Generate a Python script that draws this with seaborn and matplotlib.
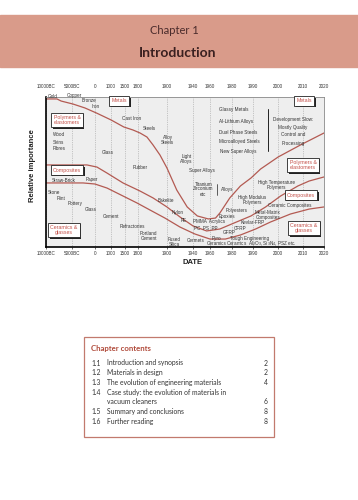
import numpy as np
import pandas as pd
import seaborn as sns
import matplotlib.pyplot as plt
import matplotlib.patheffects as pe
from matplotlib.patches import Rectangle
from matplotlib.lines import Line2D

# ---- data -------------------------------------------------------------
tick_years = [-10000, -5000, 0, 1000, 1500, 1800, 1900, 1940, 1960, 1980, 1990, 2000, 2010, 2020]
tick_labels = ["10000BC", "5000BC", "0", "1000", "1500", "1800", "1900",
               "1940", "1960", "1980", "1990", "2000", "2010", "2020"]
# the date axis is hand spaced, not linear: where each tick sits (0..1)
tick_pos = [0, .094, .176, .234, .284, .331, .435, .529, .59, .669, .745, .835, .924, 1.0]

# boundary metals / polymers
metals_year = [-10000, -7900, -7100, -4800, -2200, 100, 1000, 1460, 1685, 1807, 1831, 1852,
               1876, 1900, 1915, 1931, 1945, 1958, 1965, 1969, 1978, 1984, 1989, 1993,
               2000, 2009, 2020]
metals_imp = [.987, .987, .973, .953, .927, .893, .847, .80, .78, .76, .733, .68,
              .613, .527, .38, .267, .207, .187, .193, .227, .327, .407, .46, .52,
              .60, .68, .76]
# boundary polymers / composites
polymers_year = [-10000, -1740, 125, 750, 1430, 1807, 1852, 1900, 1920, 1940, 1956, 1969,
                 1981, 1989, 1995, 2001, 2008, 2013, 2020]
polymers_imp = [.547, .547, .533, .493, .427, .373, .327, .267, .20, .14, .107, .12,
                .16, .207, .267, .34, .407, .44, .467]
# boundary composites / ceramics
composites_year = [-10000, -2600, 0, 750, 1430, 1780, 1841, 1893, 1920, 1942, 1960, 1974,
                   1984, 1991, 1997, 2005, 2013, 2020]
composites_imp = [.427, .427, .42, .393, .34, .293, .247, .193, .133, .087, .053, .053,
                  .08, .12, .167, .22, .253, .267]

contents = [("1.1", "Introduction and synopsis", "2"),
            ("1.2", "Materials in design", "2"),
            ("1.3", "The evolution of engineering materials", "4"),
            ("1.4", "Case study: the evolution of materials in\nvacuum cleaners", "6"),
            ("1.5", "Summary and conclusions", "8"),
            ("1.6", "Further reading", "8")]

df = pd.concat([
    pd.DataFrame({"year": metals_year, "importance": metals_imp, "boundary": "metals"}),
    pd.DataFrame({"year": polymers_year, "importance": polymers_imp, "boundary": "polymers"}),
    pd.DataFrame({"year": composites_year, "importance": composites_imp, "boundary": "composites"}),
])

# ---- figure -----------------------------------------------------------
sns.set_theme(style="white")
plt.rcParams["font.family"] = ["Liberation Sans", "DejaVu Sans"]

W, H = 358, 500
fig = plt.figure(figsize=(W / 100, H / 100), dpi=100)
fig.patch.set_facecolor("white")


def fx(x):
    return x / W


def fy(y):
    return 1 - y / H


red = "#B35A52"
box_red = "#C4514A"
txt = "#333333"

# chapter header band
fig.patches.append(Rectangle((0, fy(67)), 1, 52 / H, transform=fig.transFigure,
                             color="#D99B8A", zorder=0))
fig.text(fx(174), fy(30), "Chapter 1", ha="center", va="center", fontsize=8,
         family="Lato", color="#4A2B2B")
fig.text(fx(178), fy(53), "Introduction", ha="center", va="center", fontsize=10,
         family="Lato", weight="bold", color="#3A2020")

# chart
ax = fig.add_axes([fx(46), fy(247), 278 / W, 150 / H])
ax.set_facecolor("#EEEEEE")


def fwd(x):
    return np.interp(x, tick_years, tick_pos)


def inv(p):
    return np.interp(p, tick_pos, tick_years)


ax.set_xscale("function", functions=(fwd, inv))
sns.lineplot(data=df, x="year", y="importance", hue="boundary",
             palette=[red, red, red], linewidth=0.9, legend=False,
             estimator=None, sort=False, ax=ax)
ax.set_xlim(-10000, 2020)
ax.set_ylim(0, 1)
ax.set_xticks(tick_years, tick_labels)
ax.set_yticks([])
ax.set_xlabel("")
ax.set_ylabel("")
ax.grid(axis="x", color="#9A9A9A", linestyle=(0, (1, 1.6)), linewidth=0.5)
ax.tick_params(axis="x", labelsize=3.3, length=1.5, width=0.5, pad=1.2,
               colors=txt, bottom=True)
for s in ["left", "bottom"]:
    ax.spines[s].set_color("black")
    ax.spines[s].set_linewidth(1.2)
for s in ["top", "right"]:
    ax.spines[s].set_color("#888888")
    ax.spines[s].set_linewidth(0.6)

top = ax.twiny()
top.set_xscale("function", functions=(fwd, inv))
top.set_xlim(-10000, 2020)
top.set_xticks(tick_years, tick_labels)
top.tick_params(axis="x", labelsize=3.3, length=0, pad=6, colors=txt)
top.grid(False)
for s in top.spines.values():
    s.set_visible(False)

fig.text(fx(193), fy(263), "DATE", ha="center", va="center", fontsize=5.5,
         weight="bold", color="#222222")
fig.text(fx(33), fy(166), "Relative importance", ha="center", va="center",
         rotation=90, fontsize=5.5, weight="bold", color="#222222")

# material labels (left x, centre y, in page pixels)
notes = [
    ("Gold", 48, 96), ("Copper", 67, 96), ("Bronze", 82, 101), ("Iron", 92, 107),
    ("Cast Iron", 122, 118), ("Steels", 143, 128),
    ("Wood", 53, 135), ("Skins", 53, 142), ("Fibres", 53, 149),
    ("Glass", 102, 152), ("Alloy\nSteels", 161, 140), ("Rubber", 133, 167),
    ("Straw-Brick", 52, 180), ("Paper", 86, 180),
    ("Stone", 48, 193), ("Flint", 57, 198), ("Pottery", 68, 203), ("Glass", 85, 210),
    ("Cement", 103, 217), ("Refractories", 120, 226), ("Portland\nCement", 140, 236),
    ("Light\nAlloys", 180, 159), ("Super Alloys", 189, 170),
    ("Titanium\nZirconium\netc", 193, 189), ("Alloys", 221, 189),
    ("Bakelite", 158, 201), ("Nylon", 172, 213), ("PE", 181, 221),
    ("PMMA  Acrylics", 193, 222), ("PC  PS  PP", 194, 228),
    ("Polyesters", 226, 211), ("Epoxies", 219, 217), ("Kevlar-FRP", 241, 223),
    ("CFRP", 234, 228), ("GFRP", 223, 233),
    ("Fused\nSilica", 168, 242), ("Cermets", 187, 241), ("Pyro\nCeramics", 207, 241),
    ("Tough Engineering", 230, 238.5),
    ("Ceramics  Al$_2$O$_3$, Si$_3$N$_4$, PSZ etc.", 226, 244),
    ("Glassy Metals", 219, 110), ("Al-Lithium Alloys", 219, 121),
    ("Dual Phase Steels", 219, 132), ("Microalloyed Steels", 219, 142),
    ("New Super Alloys", 220, 152),
    ("Development Slow:\nMostly Quality\nControl and\nProcessing", 273, 131),
    ("High Temperature\nPolymers", 258, 185), ("High Modulus\nPolymers", 238, 200),
    ("Ceramic Composites", 268, 206), ("Metal-Matrix\nComposites", 255, 215),
]
for s, x, y in notes:
    ls = 1.75 if s.startswith("Development") else 1.0
    fig.text(fx(x), fy(y), s, ha="left", va="center", fontsize=3.3, color=txt,
             multialignment="center", linespacing=ls)

# thin brackets
fig.add_artist(Line2D([fx(268), fx(268)], [fy(109), fy(151)], color="#222222",
                      lw=0.7, transform=fig.transFigure))
fig.add_artist(Line2D([fx(217), fx(217)], [fy(184), fy(195)], color="#222222",
                      lw=0.5, transform=fig.transFigure))

# class boxes
boxes = [("Metals", 119, 101), ("Polymers &\nelastomers", 67, 120),
         ("Composites", 67, 170), ("Ceramics &\nglasses", 64, 230),
         ("Metals", 304, 101), ("Polymers &\nelastomers", 303, 165),
         ("Composites", 301, 195), ("Ceramics &\nglasses", 304, 228)]
for s, x, y in boxes:
    t = fig.text(fx(x), fy(y), s, ha="center", va="center", fontsize=3.8,
                 color=box_red, linespacing=1.1,
                 bbox=dict(boxstyle="square,pad=0.4", fc="white", ec="#222222", lw=0.6))
    t.get_bbox_patch().set_path_effects(
        [pe.withSimplePatchShadow(offset=(1.2, -1.2), shadow_rgbFace="#222222", alpha=1)])

# chapter contents box
fig.patches.append(Rectangle((fx(84), fy(437)), 190 / W, 100 / H, transform=fig.transFigure,
                             fc="white", ec="#C27A6E", lw=0.9, zorder=1))
fig.text(fx(91), fy(349), "Chapter contents", ha="left", va="center", fontsize=5.6,
         family="Lato", weight="bold", color="#B04A3A")
line = 0
for num, title, page in contents:
    y0 = 363 + 9.7 * line
    n = title.count("\n") + 1
    fig.text(fx(91), fy(y0), num, ha="left", va="center", fontsize=4.9,
             family="Lato", color=txt)
    for k, part in enumerate(title.split("\n")):
        fig.text(fx(107), fy(y0 + 9.7 * k), part, ha="left", va="center",
                 fontsize=4.9, family="Lato", color=txt)
    fig.text(fx(268), fy(y0 + 9.7 * (n - 1)), page, ha="right", va="center",
             fontsize=4.9, family="Lato", color=txt)
    line += n

fig.savefig("out.png", dpi=100)
